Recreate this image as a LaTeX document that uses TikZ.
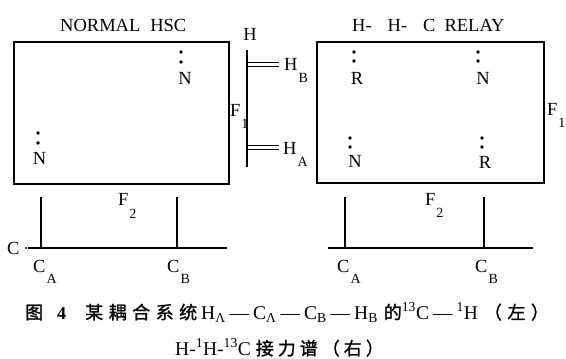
\documentclass[tikz,border=0pt]{standalone}
\usepackage{fontspec}
\setmainfont{Liberation Serif}
\newfontfamily\cjk[FakeBold=1.2]{Noto Sans CJK SC}
\newcommand\lowsub[2][12pt]{\kern1pt\raisebox{-#1}{\fontsize{14}{14}\selectfont #2}}
\newcommand\cg{\hspace{5.5pt}}
\newcommand\cgb{\hspace{4pt}}
\newcommand\dsh{\hspace{4pt}—\hspace{4pt}}
\newcommand\latc{\fontsize{19.5}{19}\selectfont}
\begin{document}
\begin{tikzpicture}[x=1pt,y=-1pt,
  lbl/.style={inner sep=0pt, anchor=base west, font=\fontsize{18.5}{18}\selectfont},
  clbl/.style={inner sep=0pt, font=\fontsize{18.5}{18}\selectfont},
  boxline/.style={line width=1.4pt},
  spec/.style={line width=1.2pt},
  dbl/.style={line width=1pt},
  capt/.style={inner sep=0pt, anchor=base west, font=\fontsize{18}{18}\selectfont}]
\useasboundingbox (0,0) rectangle (566,359);
% boxes
\node[draw, boxline, minimum width=215pt, minimum height=142pt, inner sep=0pt] (lbox) at (121.5,113) {};
\node[draw, boxline, minimum width=227pt, minimum height=141pt, inner sep=0pt] (rbox) at (430.5,112.5) {};
% titles
\node[lbl] (t1) at (60,31) {NORMAL\hspace{10pt}HSC};
\node[lbl] (t2) at (352,31) {H-\hspace{16pt}H-\hspace{16pt}C\hspace{9pt}RELAY};
% left box peaks
\fill (181,52) circle (1.8) (181,62) circle (1.8);
\node[clbl] (ln1) at (185,78) {N};
\fill (38,133) circle (1.8) (38,143) circle (1.8);
\node[clbl] (ln2) at (39.5,158) {N};
% right box peaks
\fill (354,52) circle (1.8) (354,61) circle (1.8);
\node[clbl] (rr1) at (357,78) {R};
\fill (478,52) circle (1.8) (478,61) circle (1.8);
\node[clbl] (rn1) at (483,78) {N};
\fill (350,138) circle (1.8) (350,147) circle (1.8);
\node[clbl] (rn2) at (355,161) {N};
\fill (482,138) circle (1.8) (482,147) circle (1.8);
\node[clbl] (rr2) at (485,162) {R};
% H spectrum
\node[clbl] (hl) at (250,34) {H};
\coordinate (h0) at (247,50);
\coordinate (h1) at (247,167);
\draw[spec] (h0) -- (h1);
\coordinate (hb0) at (247,62); \coordinate (hb1) at (279,62);
\coordinate (hb2) at (247,66); \coordinate (hb3) at (279,66);
\draw[dbl] (hb0) -- (hb1) (hb2) -- (hb3);
\coordinate (ha0) at (247,145); \coordinate (ha1) at (279,145);
\coordinate (ha2) at (247,149); \coordinate (ha3) at (279,149);
\draw[dbl] (ha0) -- (ha1) (ha2) -- (ha3);
\node[lbl] (hbl) at (284,70) {H\lowsub{B}};
\node[lbl] (hal) at (283,154) {H\lowsub{A}};
% F1 labels
\node[lbl] (f1l) at (230,116) {F\lowsub{1}};
\node[lbl] (f1r) at (547,115) {F\lowsub{1}};
% left C spectrum
\node[lbl] (cl) at (7,254) {C};
\fill (26,248) circle (1.2);
\coordinate (lb0) at (28,248); \coordinate (lb1) at (227,248);
\draw[spec] (lb0) -- (lb1);
\coordinate (lca) at (41,197); \coordinate (lcb) at (177,197);
\draw[spec] (lca) -- (lca |- lb0);
\draw[spec] (lcb) -- (lcb |- lb0);
\node[lbl] (f2l) at (118,205) {F\lowsub[13pt]{2}};
\node[lbl] (cal) at (33,272) {C\lowsub[11pt]{A}};
\node[lbl] (cbl) at (167,272) {C\lowsub[11pt]{B}};
% right C spectrum
\coordinate (rb0) at (328,248); \coordinate (rb1) at (533,248);
\draw[spec] (rb0) -- (rb1);
\coordinate (rca) at (345,197); \coordinate (rcb) at (484,197);
\draw[spec] (rca) -- (rca |- rb0);
\draw[spec] (rcb) -- (rcb |- rb0);
\node[lbl] (f2r) at (425,205) {F\lowsub{2}};
\node[lbl] (car) at (337,272) {C\lowsub[11pt]{A}};
\node[lbl] (cbr) at (475,272) {C\lowsub[11pt]{B}};
% caption
\node[capt] (cap1) at (25,319) {{\cjk 图}\hspace{14pt}\textbf{4}\hspace{19pt}{\cjk 某\cg 耦\cg 合\cg 系\cg 统}\hspace{4pt}{\latc H\textsubscript{Λ}\dsh C\textsubscript{Λ}\dsh C\textsubscript{B}\dsh H\textsubscript{B}}\hspace{6pt}{\cjk 的}{\latc\textsuperscript{13}C\dsh\textsuperscript{1}H}\hspace{6pt}{\cjk （\cg 左\cg ）}};
\node[capt] (cap2) at (175,355) {{\latc H-\textsuperscript{1}H-\textsuperscript{13}C}\hspace{5pt}{\cjk 接\cgb 力\cgb 谱\cgb （\cgb 右\cgb ）}};
\end{tikzpicture}
\end{document}
